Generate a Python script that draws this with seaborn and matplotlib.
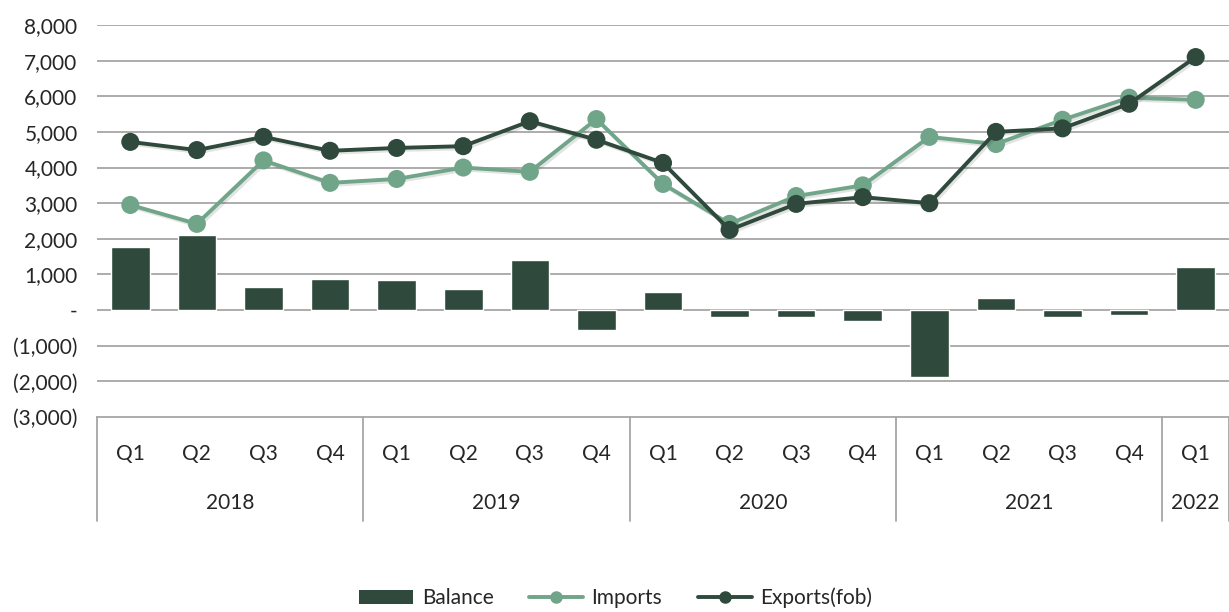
import numpy as np
import pandas as pd
import matplotlib
matplotlib.use("Agg")
import matplotlib.pyplot as plt
import matplotlib.patheffects as pe
import seaborn as sns
from matplotlib.lines import Line2D
from matplotlib.patches import Patch

years = ["2018", "2019", "2020", "2021", "2022"]
quarters_per_year = [4, 4, 4, 4, 1]
quarters = ["Q1", "Q2", "Q3", "Q4"] * 4 + ["Q1"]
balance = [1770, 2100, 650, 870, 840, 590, 1400, -550, 510, -200, -200, -310,
           -1880, 340, -200, -150, 1200]
imports = [2950, 2420, 4200, 3570, 3680, 4000, 3880, 5360, 3540, 2420, 3200, 3500,
           4860, 4660, 5340, 5960, 5900]
exports = [4720, 4490, 4860, 4470, 4550, 4600, 5300, 4780, 4130, 2250, 2980, 3170,
           3000, 5000, 5100, 5790, 7100]

dark = "#2f4a3c"
light = "#71a58a"
txt = "#262626"

df = pd.DataFrame({"pos": np.arange(len(quarters)), "Balance": balance,
                   "Imports": imports, "Exports(fob)": exports})

sns.set_theme(style="white")
plt.rcParams["font.family"] = ["Lato", "DejaVu Sans"]

fig = plt.figure(figsize=(12.29, 6.12), dpi=100)
ax = fig.add_axes([97 / 1229, 1 - 417 / 612, 1 - 97 / 1229, (417 - 25) / 612])

ax.set_ylim(-3000, 8000)
for v in range(-2000, 8001, 1000):
    ax.axhline(v, color="#a6a6a6", lw=1.3, zorder=0)

sns.barplot(data=df, x="pos", y="Balance", color=dark, width=0.58, saturation=1,
            ax=ax, zorder=2)

shadow = [pe.SimpleLineShadow(offset=(1.5, -1.5), alpha=0.12), pe.Normal()]
sns.lineplot(data=df, x="pos", y="Imports", color=light, lw=2.8, marker="o",
             markersize=13, markeredgewidth=0, ax=ax, zorder=3, path_effects=shadow)
sns.lineplot(data=df, x="pos", y="Exports(fob)", color=dark, lw=2.8, marker="o",
             markersize=13, markeredgewidth=0, ax=ax, zorder=4, path_effects=shadow)

ax.set_xlim(-0.5, len(quarters) - 0.5)
ax.set_xlabel("")
ax.set_ylabel("")
ax.set_xticks([])
for s in ["top", "right", "left"]:
    ax.spines[s].set_visible(False)
ax.spines["bottom"].set_color("#a6a6a6")
ax.spines["bottom"].set_linewidth(1.3)

yt = list(range(-3000, 8001, 1000))
ax.set_yticks(yt)
def fmt(v):
    if v == 0:
        return "-"
    if v < 0:
        return f"({abs(v):,})"
    return f"{v:,}"
ax.set_yticklabels([fmt(v) for v in yt], fontsize=15, color=txt)
ax.tick_params(axis="y", length=0, pad=14)

# multi-level category axis
trans = ax.get_xaxis_transform()
for i, q in enumerate(quarters):
    ax.text(i, -0.095, q, transform=trans, ha="center", va="center", fontsize=15,
            color=txt, clip_on=False)
start = 0
bounds = [-0.5]
for y, n in zip(years, quarters_per_year):
    ax.text(start + (n - 1) / 2, -0.22, y, transform=trans, ha="center", va="center",
            fontsize=15, color=txt, clip_on=False)
    start += n
    bounds.append(start - 0.5)
for b in bounds:
    ax.add_line(Line2D([b, b], [0, -0.265], transform=trans, color="#a6a6a6", lw=1.3,
                       clip_on=False))

handles = [Patch(facecolor=dark, edgecolor="none"),
           Line2D([], [], color=light, lw=2.8, marker="o", markersize=8),
           Line2D([], [], color=dark, lw=2.8, marker="o", markersize=8)]
fig.legend(handles, ["Balance", "Imports", "Exports(fob)"], loc="center",
           bbox_to_anchor=(0.501, 1 - 598 / 612), ncol=3, frameon=False, fontsize=15,
           handlelength=2.6, columnspacing=1.7, handletextpad=0.4, labelcolor=txt)

fig.savefig("out.png", dpi=100)
